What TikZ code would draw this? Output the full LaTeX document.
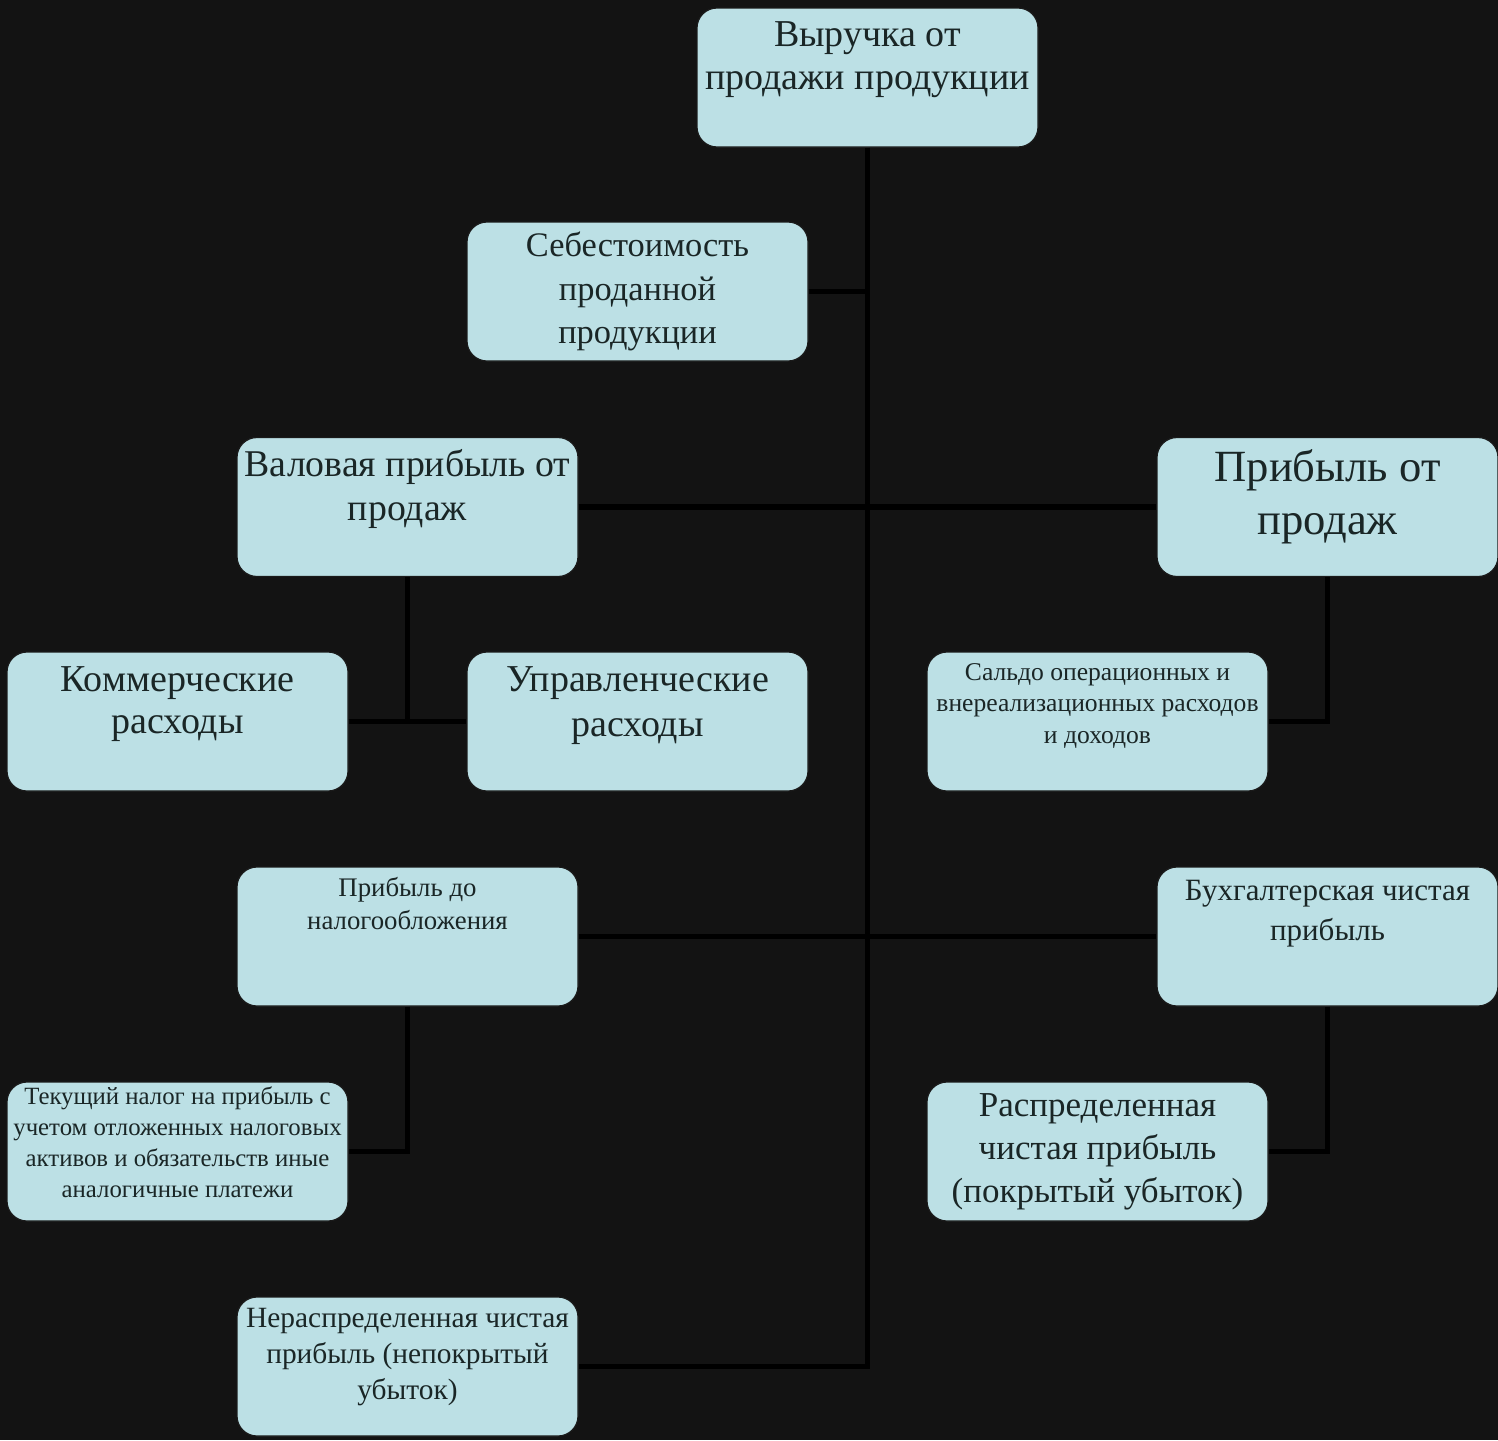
\documentclass[tikz,border=0pt]{standalone}
\usepackage{fontspec}
\setmainfont{Liberation Serif}
\definecolor{bgc}{HTML}{131313}
\definecolor{boxc}{HTML}{BCE0E5}
\definecolor{edgec}{HTML}{1A1A1A}
\definecolor{txtc}{HTML}{1A2626}
\tikzset{
  box/.style={rounded corners=10pt, fill=boxc, draw=edgec, line width=0.6pt,
    minimum width=170.5pt, minimum height=69.5pt, inner sep=0pt},
  txt/.style={align=center, text=txtc, inner sep=0pt},
  conn/.style={draw=black, line width=2.6pt}
}
\newcommand{\fs}[2]{\fontsize{#1}{#2}\selectfont}
\begin{document}
\begin{tikzpicture}[x=0.5pt,y=-0.5pt]
\fill[bgc] (0,0) rectangle (1498,1440);
\useasboundingbox (0,0) rectangle (1498,1440);
% boxes
\node[box] (V)  at (867.5,77.5)   {};
\node[box] (S)  at (637.5,291.5)  {};
\node[box] (G)  at (407.5,507)    {};
\node[box] (P)  at (1327.5,507)   {};
\node[box] (K)  at (177.5,721.5)  {};
\node[box] (U)  at (637.5,721.5)  {};
\node[box] (Sa) at (1097.5,721.5) {};
\node[box] (D)  at (407.5,936.5)  {};
\node[box] (B)  at (1327.5,936.5) {};
\node[box] (T)  at (177.5,1151.5) {};
\node[box] (R)  at (1097.5,1151.5){};
\node[box] (N)  at (407.5,1366.5) {};
% connectors
\draw[conn] (V.south) |- (N.east);
\draw[conn] (S.east) -- (S.east -| V.south);
\draw[conn] (G.east) -- (P.west);
\draw[conn] (K.east) -- (U.west);
\draw[conn] (G.south) -- (G.south |- K.east);
\draw[conn] (P.south) |- (Sa.east);
\draw[conn] (D.east) -- (B.west);
\draw[conn] (D.south) |- (T.east);
\draw[conn] (B.south) |- (R.east);
% texts
\node[txt,font=\fs{19}{21.5}] (tV) at (867.5,59.5) {Выручка от\\продажи продукции};
\node[txt,font=\fs{17.2}{21.75}] (tS) at (637.5,291.5) {Себестоимость\\проданной\\продукции};
\node[txt,font=\fs{18.9}{22}] (tG) at (407.5,489) {Валовая прибыль от\\продаж};
\node[txt,font=\fs{22.3}{26.5}] (tP) at (1327.5,496.5) {Прибыль от\\продаж};
\node[txt,font=\fs{19}{21}] (tK) at (177.5,704) {Коммерческие\\расходы};
\node[txt,font=\fs{19}{22.5}] (tU) at (637.5,705.5) {Управленческие\\расходы};
\node[txt,font=\fs{12.8}{15.75}] (tSa) at (1097.5,705.5) {Сальдо операционных и\\внереализационных расходов\\и доходов};
\node[txt,font=\fs{13.4}{16.5}] (tD) at (407.5,903.5) {Прибыль до\\налогообложения};
\node[txt,font=\fs{15.5}{20}] (tB) at (1327.5,913.5) {Бухгалтерская чистая\\прибыль};
\node[txt,font=\fs{12.4}{15.5}] (tT) at (177.5,1142.5) {Текущий налог на прибыль с\\учетом отложенных налоговых\\активов и обязательств иные\\аналогичные платежи};
\node[txt,font=\fs{17.5}{21.5}] (tR) at (1097.5,1151.5) {Распределенная\\чистая прибыль\\(покрытый убыток)};
\node[txt,font=\fs{14.7}{18}] (tN) at (407.5,1357.5) {Нераспределенная чистая\\прибыль (непокрытый\\убыток)};
\end{tikzpicture}
\end{document}
